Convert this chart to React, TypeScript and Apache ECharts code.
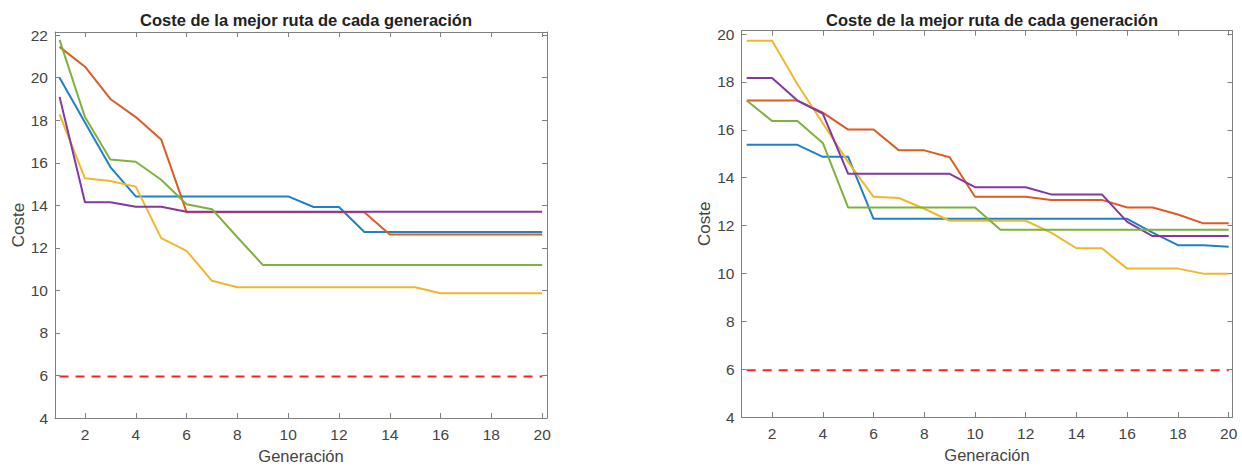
import React, { useEffect, useRef } from "react";
import * as echarts from "echarts";

const generations = [1, 2, 3, 4, 5, 6, 7, 8, 9, 10, 11, 12, 13, 14, 15, 16, 17, 18, 19, 20];
const xTicks = [2, 4, 6, 8, 10, 12, 14, 16, 18, 20];
const yTicksLeft = [4, 6, 8, 10, 12, 14, 16, 18, 20, 22];
const yTicksRight = [4, 6, 8, 10, 12, 14, 16, 18, 20];

const optimumCost = 5.95;

// Left chart
const blueL = [20.0, 17.9, 15.8, 14.42, 14.42, 14.42, 14.42, 14.42, 14.42, 14.42, 13.92, 13.92, 12.75, 12.75, 12.75, 12.75, 12.75, 12.75, 12.75, 12.75];
const orangeL = [21.45, 20.52, 19.0, 18.15, 17.1, 13.68, 13.68, 13.68, 13.68, 13.68, 13.68, 13.68, 13.68, 12.63, 12.63, 12.63, 12.63, 12.63, 12.63, 12.63];
const yellowL = [18.28, 15.27, 15.14, 14.88, 12.46, 11.86, 10.45, 10.15, 10.15, 10.15, 10.15, 10.15, 10.15, 10.15, 10.15, 9.87, 9.87, 9.87, 9.87, 9.87];
const purpleL = [19.1, 14.14, 14.14, 13.93, 13.93, 13.7, 13.7, 13.7, 13.7, 13.7, 13.7, 13.7, 13.7, 13.7, 13.7, 13.7, 13.7, 13.7, 13.7, 13.7];
const greenL = [21.78, 18.15, 16.15, 16.05, 15.2, 14.05, 13.82, 12.5, 11.2, 11.2, 11.2, 11.2, 11.2, 11.2, 11.2, 11.2, 11.2, 11.2, 11.2, 11.2];

// Right chart
const blueR = [15.37, 15.37, 15.37, 14.87, 14.87, 12.28, 12.28, 12.28, 12.28, 12.28, 12.28, 12.28, 12.28, 12.28, 12.28, 12.28, 11.7, 11.18, 11.18, 11.11];
const orangeR = [17.22, 17.22, 17.22, 16.72, 16.01, 16.01, 15.14, 15.14, 14.85, 13.2, 13.2, 13.2, 13.07, 13.07, 13.07, 12.75, 12.75, 12.46, 12.09, 12.09];
const yellowR = [19.72, 19.72, 17.9, 16.27, 14.65, 13.2, 13.15, 12.7, 12.2, 12.2, 12.2, 12.2, 11.7, 11.05, 11.05, 10.2, 10.2, 10.2, 9.99, 9.99];
const purpleR = [18.16, 18.16, 17.22, 16.68, 14.16, 14.16, 14.16, 14.16, 14.16, 13.6, 13.6, 13.6, 13.3, 13.3, 13.3, 12.15, 11.56, 11.56, 11.56, 11.56];
const greenR = [17.22, 16.37, 16.37, 15.45, 12.75, 12.75, 12.75, 12.75, 12.75, 12.75, 11.82, 11.82, 11.82, 11.82, 11.82, 11.82, 11.82, 11.82, 11.82, 11.82];

const titleText = "Coste de la mejor ruta de cada generación";
const xName = "Generación";
const yName = "Coste";

const colors = {
  blue: "#1f80c8",
  orange: "#dc5c24",
  yellow: "#efb82c",
  purple: "#8338a0",
  green: "#7eb23c",
  red: "#ff2020",
};

const AXIS_COLOR = "#808080";
const TEXT_COLOR = "#444444";
const FONT = "'Liberation Sans', Arial, Helvetica, sans-serif";

function toPoints(vals: number[]) {
  return generations.map((g, i) => [g, vals[i]]);
}

export default function App() {
  const ref = useRef<HTMLDivElement>(null);

  useEffect(() => {
    if (!ref.current) return;
    const chart = echarts.init(ref.current, undefined, { renderer: "svg" });

    const grids = [
      { left: 55, top: 32, width: 492, height: 386 },
      { left: 741.5, top: 30.7, width: 491, height: 386.3 },
    ];
    const xRanges = [
      [0.82, 20.19],
      [0.795, 20.15],
    ];
    const yRanges = [
      [4, 22.15],
      [4, 20.14],
    ];
    const yTicksAll = [yTicksLeft, yTicksRight];

    const xAxes: any[] = [];
    const yAxes: any[] = [];
    grids.forEach((_, gi) => {
      xAxes.push({
        type: "value",
        gridIndex: gi,
        position: "bottom",
        min: xRanges[gi][0],
        max: xRanges[gi][1],
        name: xName,
        nameLocation: "middle",
        nameGap: 29,
        nameTextStyle: { fontFamily: FONT, fontSize: 16.5, color: TEXT_COLOR },
        axisLine: { show: true, onZero: false, lineStyle: { color: AXIS_COLOR, width: 1 } },
        axisTick: { show: true, inside: true, length: 5, customValues: xTicks, lineStyle: { color: AXIS_COLOR } },
        axisLabel: { show: true, customValues: xTicks, fontFamily: FONT, fontSize: 15.5, color: TEXT_COLOR, margin: 8 },
        splitLine: { show: false },
      });
      xAxes.push({
        type: "value",
        gridIndex: gi,
        position: "top",
        min: xRanges[gi][0],
        max: xRanges[gi][1],
        axisLine: { show: true, onZero: false, lineStyle: { color: AXIS_COLOR, width: 1 } },
        axisTick: { show: true, inside: true, length: 5, customValues: xTicks, lineStyle: { color: AXIS_COLOR } },
        axisLabel: { show: false },
        splitLine: { show: false },
      });
      yAxes.push({
        type: "value",
        gridIndex: gi,
        position: "left",
        min: yRanges[gi][0],
        max: yRanges[gi][1],
        name: yName,
        nameLocation: "middle",
        nameGap: 28,
        nameTextStyle: { fontFamily: FONT, fontSize: 17, color: TEXT_COLOR },
        axisLine: { show: true, onZero: false, lineStyle: { color: AXIS_COLOR, width: 1 } },
        axisTick: { show: true, inside: true, length: 5, customValues: yTicksAll[gi], lineStyle: { color: AXIS_COLOR } },
        axisLabel: { show: true, customValues: yTicksAll[gi], fontFamily: FONT, fontSize: 15.5, color: TEXT_COLOR, margin: 7 },
        splitLine: { show: false },
      });
      yAxes.push({
        type: "value",
        gridIndex: gi,
        position: "right",
        min: yRanges[gi][0],
        max: yRanges[gi][1],
        axisLine: { show: true, onZero: false, lineStyle: { color: AXIS_COLOR, width: 1 } },
        axisTick: { show: true, inside: true, length: 5, customValues: yTicksAll[gi], lineStyle: { color: AXIS_COLOR } },
        axisLabel: { show: false },
        splitLine: { show: false },
      });
    });

    const seriesSets = [
      [blueL, orangeL, yellowL, purpleL, greenL],
      [blueR, orangeR, yellowR, purpleR, greenR],
    ];
    const seriesColors = [colors.blue, colors.orange, colors.yellow, colors.purple, colors.green];

    const series: any[] = [];
    seriesSets.forEach((set, gi) => {
      set.forEach((vals, si) => {
        series.push({
          type: "line",
          xAxisIndex: gi * 2,
          yAxisIndex: gi * 2,
          data: toPoints(vals),
          showSymbol: false,
          symbol: "none",
          lineStyle: { color: seriesColors[si], width: 2 },
          itemStyle: { color: seriesColors[si] },
          z: 2 + si,
        });
      });
      series.push({
        type: "line",
        xAxisIndex: gi * 2,
        yAxisIndex: gi * 2,
        data: toPoints(generations.map(() => optimumCost)),
        showSymbol: false,
        symbol: "none",
        lineStyle: { color: colors.red, width: 2, type: [9, 7] },
        z: 10,
      });
    });

    chart.setOption({
      animation: false,
      backgroundColor: "#ffffff",
      title: [
        {
          text: titleText,
          left: 301,
          top: 6,
          textAlign: "center",
          textStyle: { fontFamily: FONT, fontSize: 16.5, fontWeight: "bold", color: "#222" },
        },
        {
          text: titleText,
          left: 987,
          top: 6,
          textAlign: "center",
          textStyle: { fontFamily: FONT, fontSize: 16.5, fontWeight: "bold", color: "#222" },
        },
      ],
      grid: grids.map((g) => ({ ...g, containLabel: false, outerBoundsMode: "none" })),
      xAxis: xAxes,
      yAxis: yAxes,
      series,
    });

    return () => {
      chart.dispose();
    };
  }, []);

  return (
    <div
      ref={ref}
      style={{ position: "fixed", left: 0, top: 0, width: 1242, height: 467, background: "#fff" }}
    />
  );
}
